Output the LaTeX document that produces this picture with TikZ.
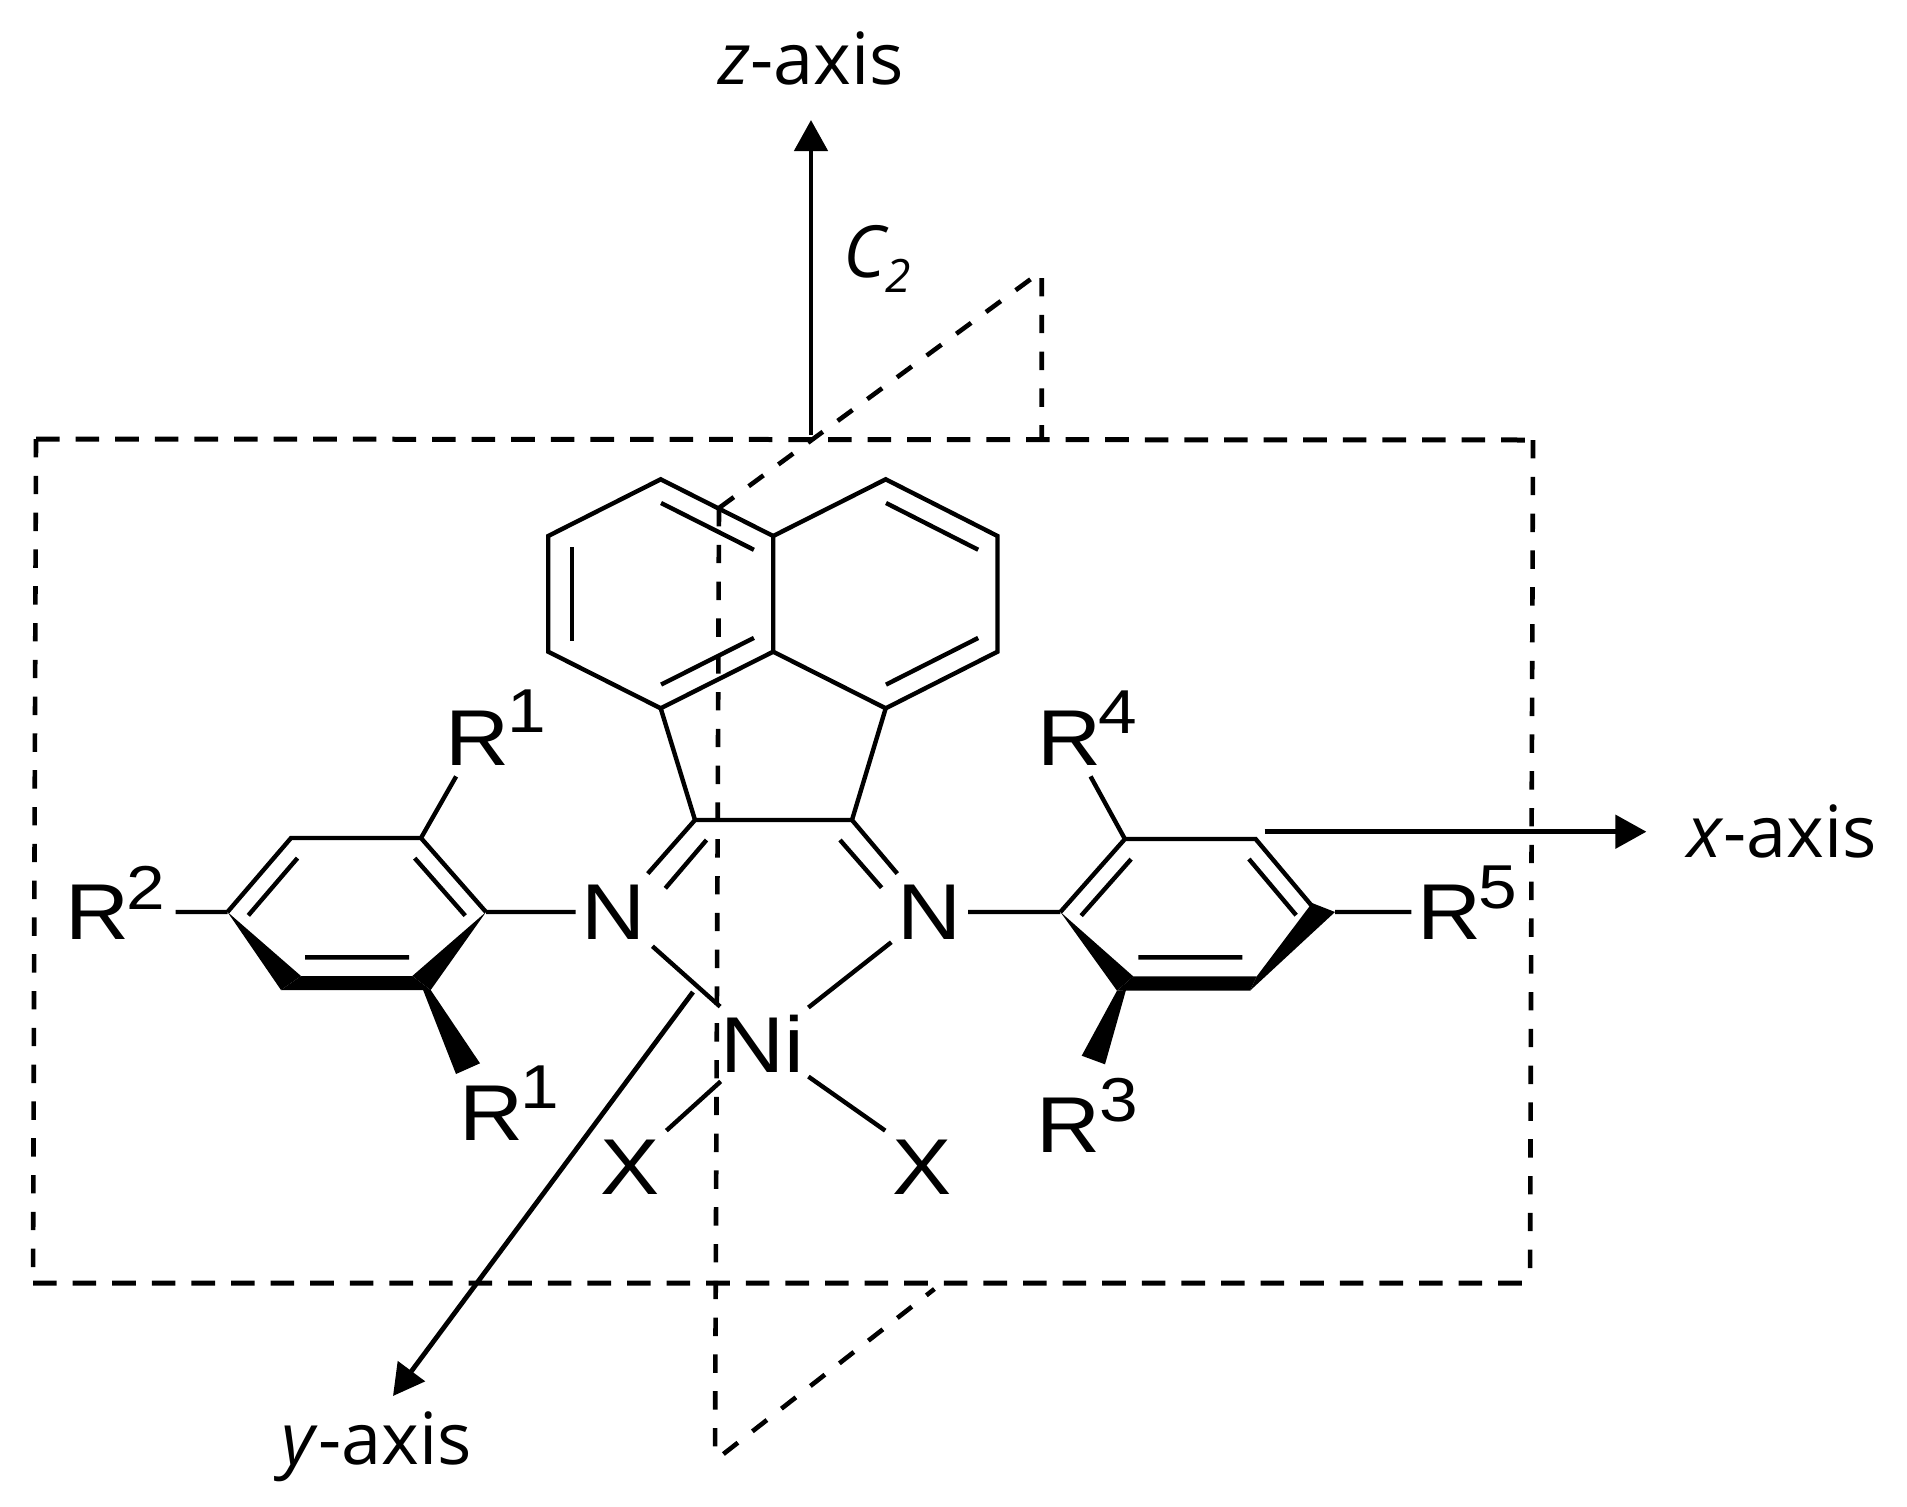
\documentclass[tikz,border=0pt]{standalone}
\usepackage{fontspec}
\usetikzlibrary{arrows.meta,calc}
\setmainfont{Open Sans}
\newfontfamily\chemfont[FakeStretch=1.12]{Liberation Sans}
\newcommand{\innerbond}[3]{\draw[bond,shorten <=5.5pt,shorten >=5.5pt] ($(#1)!#3!90:(#2)$) -- ($(#2)!#3!-90:(#1)$);}

\begin{document}
\begin{tikzpicture}[x=0.5pt,y=-0.5pt]
	\tikzset{bond/.style={line width=2.2pt,line join=miter}}
	\tikzset{axisline/.style={line width=2.4pt,-{Triangle[length=15.5pt,width=16.5pt]}}}
	\tikzset{planeh/.style={line width=2.5pt,dash pattern=on 11.8pt off 8pt}}
	\tikzset{planev/.style={line width=2.3pt,dash pattern=on 9.2pt off 9.2pt}}
	\tikzset{atom/.style={inner sep=0pt,minimum width=38pt,minimum height=38pt,font=\chemfont\fontsize{39.6}{44}\selectfont}}
	\tikzset{sup/.style={inner sep=0pt,font=\chemfont\fontsize{31}{34}\selectfont}}
	\tikzset{axislabel/.style={inner sep=0pt,anchor=base,font=\fontsize{36}{40}\selectfont}}
	\useasboundingbox (0,0) rectangle (1907,1506);

	% planes
	\coordinate (p1) at (36,439); \coordinate (p2) at (1533,440);
	\coordinate (p3) at (1530,1283); \coordinate (p4) at (33,1283);
	\coordinate (q1) at (719,508); \coordinate (q2) at (1035,276);
	\coordinate (q3) at (1041.7,278); \coordinate (q4) at (1041.7,439);
	\coordinate (q5) at (715,1457); \coordinate (q6) at (723.4,1454);
	\coordinate (q7) at (934.4,1289);
	\draw[planeh] (p1) -- (p2) (p4) -- (p3);
	\draw[planev] (p1) -- (p4) (p2) -- (p3);
	\draw[planev] (q1) -- (q2) (q3) -- (q4) (q1) -- (q5) (q6) -- (q7);

	% acenaphthene part
	\coordinate (l1) at (660.7,479.3); \coordinate (l2) at (773.2,536);
	\coordinate (l3) at (773.2,651.7); \coordinate (l4) at (660.7,708.3);
	\coordinate (l5) at (548.2,651.7); \coordinate (l6) at (548.2,536);
	\coordinate (r1) at (885.7,479.3); \coordinate (r2) at (997.5,536);
	\coordinate (r3) at (997.5,651.7); \coordinate (r4) at (885.7,708.3);
	\coordinate (c1) at (695,820); \coordinate (c2) at (852,820);
	\draw[bond] (l2) -- (l1) -- (l6) -- (l5) -- (l4) -- (l3) -- cycle;
	\draw[bond] (l2) -- (r1) -- (r2) -- (r3) -- (r4) -- (l3);
	\draw[bond] (l4) -- (c1) -- (c2) -- (r4);
	\innerbond{l2}{l1}{10.5pt}
	\innerbond{l6}{l5}{12pt}
	\innerbond{l4}{l3}{10.5pt}
	\innerbond{r2}{r1}{10.5pt}
	\innerbond{r4}{r3}{10.5pt}

	% metal centre
	\node[atom] (nl) at (614,912) {N};
	\node[atom] (nr) at (929.7,912) {N};
	\node[atom,minimum width=46pt,minimum height=37pt] (ni) at (762,1044) {Ni};
	\node[atom,minimum width=36pt,minimum height=36pt] (xl) at (630,1167) {X};
	\node[atom,minimum width=36pt,minimum height=36pt] (xr) at (921.6,1167) {X};
	\coordinate (il1) at (706.5,840); \coordinate (il2) at (665.3,888.3);
	\coordinate (ir1) at (840,840); \coordinate (ir2) at (881.6,887.7);
	\draw[bond] (c1) -- (nl) (c2) -- (nr) (il1) -- (il2) (ir1) -- (ir2);
	\draw[bond] (nl) -- (ni) (nr) -- (ni) (ni) -- (xl.north east) (ni) -- (xr.north west);

	% left aryl
	\coordinate (a1) at (291,838); \coordinate (a2) at (421,838);
	\coordinate (a3) at (486,912); \coordinate (a6) at (227.5,912);
	\coordinate (a4t) at (412.3,976); \coordinate (a4b) at (430.7,990);
	\coordinate (a5t) at (301,976); \coordinate (a5b) at (281,990);
	\coordinate (ai1) at (305,957.3); \coordinate (ai2) at (409,957.3);
	\coordinate (w0) at (422.7,989); \coordinate (w1) at (480,1063.3); \coordinate (w2) at (456,1074);
	\coordinate (bb) at (175.7,912);
	\node[atom] (ra) at (478,738) {R};
	\node[atom] (rb) at (97.4,912) {R};
	\node[atom] (rc) at (492,1113) {R};
	\node[sup] (sa) at (527,711.5) {1};
	\node[sup] (sb) at (145.5,888) {2};
	\node[sup] (sc) at (539.5,1087.5) {1};
	\draw[bond] (a3) -- (a2) -- (a1) -- (a6) (ai1) -- (ai2);
	\draw[bond] (a2) -- (ra) (bb) -- (a6) (nl) -- (a3);
	\innerbond{a1}{a6}{9pt}
	\innerbond{a3}{a2}{9pt}
	\fill (a6) -- (a5t) -- (a5b) -- cycle;
	\fill (a3) -- (a4t) -- (a4b) -- cycle;
	\fill (a5t) -- (a4t) -- (a4b) -- (a5b) -- cycle;
	\fill (w0) -- (a4b) -- (w1) -- (w2) -- cycle;

	% right aryl
	\coordinate (b1) at (1060.4,912); \coordinate (b2) at (1124.9,839);
	\coordinate (b3) at (1255.6,839); \coordinate (b4) at (1317,912);
	\coordinate (b5t) at (1256.7,976.4); \coordinate (b5b) at (1250,990.7);
	\coordinate (b6t) at (1133.3,976.4); \coordinate (b6b) at (1117,990.7);
	\coordinate (b7) at (1126,990); \coordinate (bi1) at (1138.3,957.3); \coordinate (bi2) at (1242.3,957.3);
	\coordinate (w3) at (1081.7,1055.7); \coordinate (w4) at (1105,1064.3);
	\coordinate (w5) at (1312,903); \coordinate (w6) at (1335,912);
	\node[atom] (rd) at (1069.5,738) {R};
	\node[atom] (re) at (1449.8,912) {R};
	\node[atom] (rf) at (1069,1125) {R};
	\node[sup] (sd) at (1117.5,712) {4};
	\node[sup] (se) at (1498,887) {5};
	\node[sup] (sf) at (1118.5,1100) {3};
	\draw[bond] (b1) -- (b2) -- (b3) -- (b4) (bi1) -- (bi2);
	\draw[bond] (b2) -- (rd) (w6) -- (re) (nr) -- (b1);
	\innerbond{b2}{b1}{9pt}
	\innerbond{b4}{b3}{9pt}
	\fill (b1) -- (b6t) -- (b6b) -- cycle;
	\fill (b6t) -- (b5t) -- (b5b) -- (b6b) -- cycle;
	\fill (b5t) -- (w5) -- (w6) -- (b5b) -- cycle;
	\fill (b6b) -- (b7) -- (w4) -- (w3) -- cycle;

	% axes
	\coordinate (zb) at (811,435); \coordinate (zt) at (811,120);
	\coordinate (xb) at (1264.7,831.7); \coordinate (xt) at (1646.4,831.7);
	\coordinate (yb) at (693,992); \coordinate (yt) at (393,1396);
	\draw[axisline] (zb) -- (zt);
	\draw[axisline] (xb) -- (xt);
	\draw[axisline] (yb) -- (yt);
	\node[axislabel] (zl) at (811,84) {\textit{z}-axis};
	\node[axislabel] (xl2) at (1782,857) {\textit{x}-axis};
	\node[axislabel] (yl) at (377,1464) {\textit{y}-axis};
	\node[inner sep=0pt,anchor=base west,font=\itshape\fontsize{36}{40}\selectfont] (c2l) at (843,277) {C\raisebox{-7.5pt}{\fontsize{23}{26}\selectfont 2}};
\end{tikzpicture}
\end{document}
